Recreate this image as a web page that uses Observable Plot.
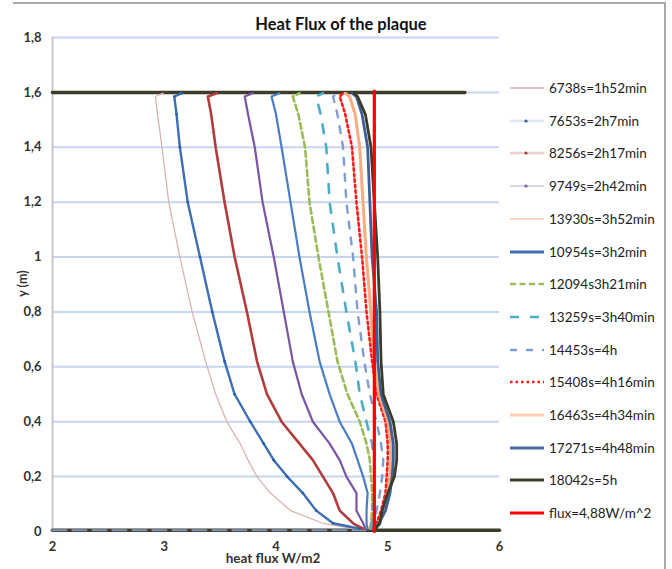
<!DOCTYPE html>
<html><head><meta charset="utf-8">
<script src="https://cdn.jsdelivr.net/npm/d3@7"></script>
<script src="https://cdn.jsdelivr.net/npm/@observablehq/plot@0.6"></script>
<style>
body{margin:0;background:#fff;font-family:Lato,"Open Sans",sans-serif;}
#wrap{position:relative;width:672px;height:569px;overflow:hidden;background:#fff;}
#frame{position:absolute;left:13px;top:2px;width:651px;height:580px;border-top:2px solid #a8a8a8;border-right:2px solid #a8a8a8;}
#title{position:absolute;left:250px;width:182px;top:14px;text-align:center;font-weight:bold;font-size:16.5px;color:#111;white-space:nowrap;}
#ylab{position:absolute;left:2px;top:276px;width:40px;text-align:center;transform:rotate(-90deg);font-size:12.5px;font-weight:bold;color:#333;}
#xlab{position:absolute;left:200px;width:146px;top:550px;text-align:center;font-size:13.5px;font-weight:bold;color:#333;white-space:nowrap;}
#legend{position:absolute;left:508px;top:0;}
.item{position:absolute;left:0;height:18px;display:flex;align-items:center;white-space:nowrap;font-size:13.5px;color:#222;}
.item svg{margin-right:3px;}
svg.plot text{font-family:Lato,"Open Sans",sans-serif;}
</style></head><body>
<div id="wrap"><div id="frame"></div><div id="chart"></div>
<div id="title">Heat Flux of the plaque</div>
<div id="ylab">y (m)</div>
<div id="xlab">heat flux W/m2</div>
<div id="legend"></div></div>
<script>
// y positions (m) at which the curves were read
const yLevels = [0.01, 0.03, 0.076, 0.14, 0.2, 0.26, 0.32, 0.4, 0.5, 0.62, 0.8, 1.0, 1.2, 1.4, 1.52, 1.585, 1.597];
// heat flux (W/m2) of each series at those levels
const s6738  = [4.70, 4.42, 4.13, 3.95, 3.83, 3.75, 3.68, 3.56, 3.46, 3.37, 3.25, 3.14, 3.04, 2.98, 2.94, 2.92, 2.99];
const s7653  = [4.75, 4.51, 4.36, 4.24, 4.10, 3.98, 3.89, 3.77, 3.63, 3.54, 3.43, 3.32, 3.21, 3.14, 3.11, 3.09, 3.16];
const s8256  = [4.78, 4.69, 4.57, 4.51, 4.42, 4.33, 4.21, 4.05, 3.92, 3.83, 3.74, 3.63, 3.54, 3.46, 3.42, 3.39, 3.47];
const s9749  = [4.80, 4.78, 4.72, 4.72, 4.63, 4.57, 4.48, 4.33, 4.23, 4.15, 4.07, 3.98, 3.88, 3.81, 3.75, 3.72, 3.79];
const s13930 = [4.87, 4.91, 4.96, 4.99, 5.01, 5.02, 5.02, 4.99, 4.91, 4.87, 4.84, 4.80, 4.77, 4.74, 4.70, 4.65, 4.61];
const s10954 = [4.82, 4.81, 4.81, 4.82, 4.78, 4.73, 4.68, 4.57, 4.48, 4.39, 4.30, 4.21, 4.13, 4.05, 4.00, 3.96, 4.03];
const s12094 = [4.84, 4.85, 4.86, 4.86, 4.85, 4.84, 4.81, 4.75, 4.64, 4.55, 4.47, 4.38, 4.30, 4.26, 4.20, 4.15, 4.21];
const s13259 = [4.85, 4.86, 4.87, 4.88, 4.88, 4.88, 4.86, 4.81, 4.75, 4.71, 4.63, 4.55, 4.48, 4.45, 4.40, 4.36, 4.42];
const s14453 = [4.86, 4.88, 4.90, 4.93, 4.95, 4.96, 4.94, 4.90, 4.84, 4.79, 4.73, 4.69, 4.63, 4.60, 4.55, 4.51, 4.56];
const s15408 = [4.87, 4.90, 4.94, 4.98, 4.99, 5.00, 5.00, 4.98, 4.90, 4.86, 4.81, 4.77, 4.72, 4.68, 4.62, 4.57, 4.60];
const s16463 = [4.88, 4.92, 4.97, 5.00, 5.02, 5.03, 5.03, 5.00, 4.92, 4.88, 4.85, 4.81, 4.78, 4.75, 4.71, 4.66, 4.62];
const s17271 = [4.88, 4.92, 4.98, 5.02, 5.04, 5.05, 5.05, 5.02, 4.94, 4.91, 4.90, 4.86, 4.84, 4.82, 4.77, 4.72, 4.68];
const s18042 = [4.89, 4.93, 4.95, 5.00, 5.06, 5.08, 5.08, 5.05, 4.96, 4.94, 4.93, 4.91, 4.88, 4.85, 4.80, 4.73, 4.70];
// walls of the plaque drawn by the last series
const topWallX = [2, 5.69];
const topWallY = 1.6;
const bottomWallX = [2, 6];
const bottomWallY = 0.005;
// reference flux
const fluxValue = 4.88;
const fluxY = [0, 1.605];

const seriesNames = ["6738s=1h52min","7653s=2h7min","8256s=2h17min","9749s=2h42min","13930s=3h52min","10954s=3h2min","12094s3h21min","13259s=3h40min","14453s=4h","15408s=4h16min","16463s=4h34min","17271s=4h48min","18042s=5h"];
const seriesX = [s6738,s7653,s8256,s9749,s13930,s10954,s12094,s13259,s14453,s15408,s16463,s17271,s18042];
const yTicks = [0,0.2,0.4,0.6,0.8,1,1.2,1.4,1.6,1.8];
const xTicks = [2,3,4,5,6];
const fluxName = "flux=4,88W/m^2";

// styles (lc = legend line colour, m = legend marker colour)
const styles = [
  {c:"#d8b4b1", w:1.3, lc:"#e4c4c2"},
  {c:"#3d6fb6", w:2.4, lc:"#dce6f2", m:"#2a5aa0"},
  {c:"#b23b3b", w:2.6, lc:"#f0d0d0", m:"#b23b3b"},
  {c:"#7a55a4", w:2.2, lc:"#ddd3ea", m:"#7a55a4"},
  {c:"#f8c8a6", w:1.3, lc:"#fbd5bb"},
  {c:"#4a7dc2", w:2.2, lc:"#3d6fb6", lw:3.2},
  {c:"#9bbb59", w:2.6, d:"6,3.5"},
  {c:"#4bacc6", w:2.6, d:"9,11", ld:null},
  {c:"#7f9dd0", w:2.4, d:"7,9", ld:null},
  {c:"#ff1a1a", w:2.6, d:"2.5,3"},
  {c:"#f7ad80", w:2.8, lc:"#fbd0b3"},
  {c:"#3c6096", w:2.8, lc:"#4a6a9c"},
  {c:"#3d3c2a", w:2.8}
];

const rows = [];
seriesX.forEach((xs, i) => xs.forEach((x, j) => rows.push({s: i, x, y: yLevels[j]})));

const fmt = d3.formatLocale({decimal: ",", thousands: ".", grouping: [3], currency: ["", ""]}).format("~g");

const marks = [
  Plot.ruleY(yTicks.filter(d => d > 0), {stroke: "#c6d6ec", strokeWidth: 2}),
  Plot.ruleX([2], {stroke: "#c8c8c8", strokeWidth: 2}),
  Plot.axisY(yTicks, {tickSize: 0, tickPadding: 11, tickFormat: fmt, fontSize: 13, fontWeight: "bold", fill: "#333", label: null}),
  Plot.axisX(xTicks, {tickSize: 0, tickPadding: 10, tickFormat: fmt, fontSize: 13, fontWeight: "bold", fill: "#333", label: null}),
  Plot.line(bottomWallX.map(x => ({x, y: bottomWallY})), {x: "x", y: "y", stroke: "#3d3c2a", strokeWidth: 3.5}),
  Plot.line([{x: bottomWallX[0], y: bottomWallY}, {x: 4.8, y: bottomWallY}], {x: "x", y: "y", stroke: "#7f95b8", strokeWidth: 2, strokeDasharray: "14,6"}),
  Plot.line(topWallX.map(x => ({x, y: topWallY})), {x: "x", y: "y", stroke: "#3d3c2a", strokeWidth: 3.5})
];
styles.forEach((st, i) => {
  marks.push(Plot.line(rows.filter(r => r.s === i), {x: "x", y: "y", stroke: st.c, strokeWidth: st.w, strokeDasharray: st.d || null, curve: "linear"}));
});
marks.push(Plot.dot(rows.filter(r => r.s === 1), {x: "x", y: "y", r: 1.3, fill: "#2a5aa0"}));
marks.push(Plot.line(fluxY.map(y => ({x: fluxValue, y})), {x: "x", y: "y", stroke: "#ff0000", strokeWidth: 3.2}));

const chart = Plot.plot({
  width: 672, height: 569,
  marginLeft: 52, marginRight: 173, marginTop: 37, marginBottom: 38,
  x: {domain: [2, 6]},
  y: {domain: [0, 1.8]},
  style: {background: "transparent", overflow: "visible"},
  marks
});
chart.classList.add("plot");
document.getElementById("chart").appendChild(chart);

// legend
const leg = document.getElementById("legend");
const entries = seriesNames.map((n, i) => ({n, st: styles[i]})).concat([{n: fluxName, st: {c: "#ff0000", w: 3}}]);
entries.forEach((e, i) => {
  const div = document.createElement("div");
  div.className = "item";
  div.style.top = (79 + i * 32.7) + "px";
  const st = e.st;
  const dash = st.d ? `stroke-dasharray="${st.d}"` : "";
  const marker = st.m ? `<circle cx="18" cy="5" r="1.6" fill="${st.m}"/>` : "";
  div.innerHTML = `<svg width="38" height="10"><line x1="2" y1="5" x2="36" y2="5" stroke="${st.lc || st.c}" stroke-width="${st.lw || Math.max(st.w, 2.2)}" ${dash}/>${marker}</svg><span>${e.n}</span>`;
  leg.appendChild(div);
});
</script></body></html>
